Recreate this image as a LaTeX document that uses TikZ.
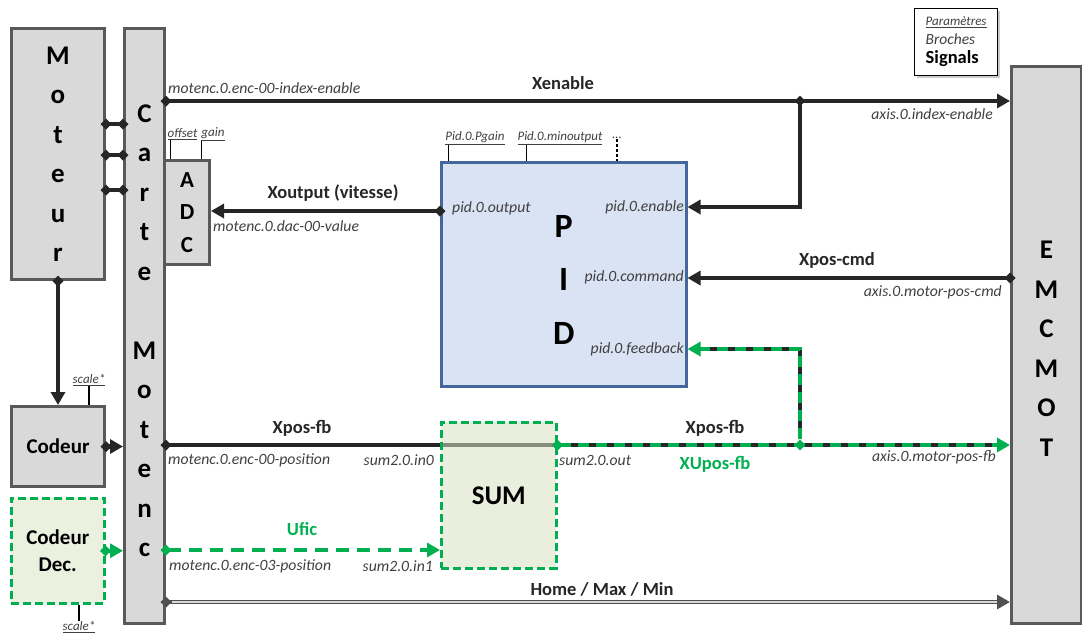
\documentclass[tikz,border=0pt]{standalone}
\usepackage{fontspec}
\setmainfont{Carlito}
\usetikzlibrary{arrows.meta,shapes.geometric,shadows,backgrounds}

\definecolor{boxgray}{RGB}{89,89,89}
\definecolor{fillgray}{RGB}{217,217,217}
\definecolor{lineblack}{RGB}{38,38,38}
\definecolor{siggreen}{RGB}{0,176,80}
\definecolor{fillgreen}{RGB}{235,241,222}
\definecolor{sumgreen}{RGB}{215,224,193}
\definecolor{pidblue}{RGB}{68,104,156}
\definecolor{fillblue}{RGB}{218,227,243}
\definecolor{pingray}{RGB}{64,64,64}
\definecolor{homegray}{RGB}{80,80,80}

\tikzset{
  block/.style={rectangle, inner sep=0pt, anchor=north west, align=center},
  graybox/.style={block, draw=boxgray, fill=fillgray, line width=3pt},
  greenbox/.style={block, draw=siggreen, fill=fillgreen, line width=2.5pt, dash pattern=on 8pt off 4pt},
  stack/.style={font=\fontsize{27}{39.5}\selectfont\bfseries, align=center},
  pinlbl/.style={inner sep=0pt, text=pingray, font=\fontsize{15.7}{18}\selectfont\itshape},
  parlbl/.style={inner sep=0pt, text=pingray, font=\fontsize{13}{15}\selectfont\itshape},
  siglbl/.style={inner sep=0pt, text=lineblack, font=\fontsize{18.5}{21}\selectfont\bfseries},
  wire/.style={line width=4.5pt, draw=lineblack},
  greenwire/.style={line width=4.5pt, draw=siggreen, dash pattern=on 11pt off 7pt},
  pinout/.style={arrows={Diamond[length=11pt,width=11pt]-Triangle[length=13pt,width=14pt]}, shorten <=-5.5pt},
  pinin/.style={arrows={-Triangle[length=13pt,width=14pt]}},
  pinboth/.style={arrows={Diamond[length=11pt,width=11pt]-Diamond[length=11pt,width=11pt]}, shorten <=-5.5pt, shorten >=-5.5pt},
  junc/.style={diamond, fill=lineblack, inner sep=0pt, minimum width=11pt, minimum height=11pt},
  tick/.style={line width=1.2pt, draw=black}
}

\begin{document}
\begin{tikzpicture}[x=1pt, y=-1pt]
    \useasboundingbox (0,0) rectangle (1082,633);

    % Signal levels
    \coordinate (yEn) at (0,101);
    \coordinate (yPidEn) at (0,207);
    \coordinate (yOut) at (0,211);
    \coordinate (yCmd) at (0,278);
    \coordinate (yFeed) at (0,349);
    \coordinate (yFb) at (0,445);
    \coordinate (yUfic) at (0,550);
    \coordinate (yHome) at (0,602);

    % Blocks
    \node[graybox, stack, minimum width=93pt, minimum height=251pt] (moteur) at (10,27) {M\\o\\t\\e\\u\\r};
    \node[graybox, minimum width=40pt, minimum height=595pt] (carte) at (123,27) {};
    \node[stack] (carteTxt) at ([yshift=-4.5pt]carte.center) {C\\a\\r\\t\\e\\[39.5pt]M\\o\\t\\e\\n\\c};
    \node[graybox, font=\fontsize{23}{32.5}\selectfont\bfseries, minimum width=45pt, minimum height=104pt] (adc) at (163,159) {A\\D\\C};
    \node[graybox, font=\fontsize{21}{27}\selectfont\bfseries, minimum width=93pt, minimum height=80pt] (codeur) at (10,405) {Codeur};
    \node[greenbox, font=\fontsize{21}{27}\selectfont\bfseries, minimum width=93pt, minimum height=105pt] (codeurdec) at (10,497) {Codeur\\Dec.};
    \node[graybox, minimum width=70pt, minimum height=557pt] (emcmot) at (1010,65) {};
    \node[stack] (emcmotTxt) at ([yshift=-3.5pt]emcmot.center) {E\\M\\C\\M\\O\\T};
    \node[block, draw=pidblue, fill=fillblue, line width=2.5pt, minimum width=245pt, minimum height=224pt] (pid) at (440,161) {};
    \node[font=\fontsize{34}{53.5}\selectfont\bfseries, align=center] (pidTxt) at ([yshift=-5.5pt]pid.center) {P\\I\\D};
    \node[greenbox, fill=sumgreen, fill opacity=0.55, text opacity=1, font=\fontsize{27}{30}\selectfont\bfseries, minimum width=115pt, minimum height=146pt] (sum) at (440,421) {SUM};

    % Legend
    \node[block, draw=black, line width=1.2pt, fill=white, align=left, text=pingray,
          drop shadow={shadow xshift=2pt, shadow yshift=-2pt, fill=black!40},
          minimum width=83pt, minimum height=67pt, font=\fontsize{15.5}{19}\selectfont] (legend) at (914,8)
          {{\fontsize{13}{14}\selectfont\itshape\underline{Paramètres}}\\{\itshape Broches}\\{\fontsize{18.5}{20}\selectfont\bfseries\color{black}Signals}};

    % Moteur - Carte
    \foreach \yy in {124,155,190} {
        \coordinate (lk) at (0,\yy);
        \draw[wire, pinboth] (moteur.east |- lk) -- (carte.west |- lk);
    }
    \draw[wire, pinout] (moteur.south) -- (codeur.north);
    \draw[wire, pinout] (codeur.east) -- (carte.west |- codeur.east);
    \draw[wire, draw=siggreen, pinout] (codeurdec.east) -- (carte.west |- codeurdec.east);

    % Xenable
    \draw[wire, pinout] (carte.east |- yEn) -- (emcmot.west |- yEn);
    \node[junc] (jEn) at (800,101) {};
    \draw[wire, pinin] (jEn.center) |- (pid.east |- yPidEn);

    % Xoutput, Xpos-cmd
    \draw[wire, pinout] (pid.west |- yOut) -- (adc.east |- yOut);
    \draw[wire, pinout] (emcmot.west |- yCmd) -- (pid.east |- yCmd);

    % Xpos-fb
    \draw[wire, arrows={Diamond[length=11pt,width=11pt]-}, shorten <=-5.5pt] (carte.east |- yFb) -- (sum.west |- yFb);
    \begin{scope}[on background layer]
        \draw[wire] (sum.west |- yFb) -- (sum.east |- yFb);
    \end{scope}

    % XUpos-fb
    \draw[wire, shorten >=8pt] (sum.east |- yFb) -- (emcmot.west |- yFb);
    \draw[greenwire, pinout] (sum.east |- yFb) -- (emcmot.west |- yFb);
    \node[junc, fill=siggreen] (jFb) at (800,445) {};
    \draw[wire, shorten >=8pt] (jFb.north) |- (pid.east |- yFeed);
    \draw[greenwire, pinin] (jFb.north) |- (pid.east |- yFeed);

    % Ufic
    \draw[greenwire, dash pattern=on 13pt off 8pt, pinout] (carte.east |- yUfic) -- (sum.west |- yUfic);

    % Home / Max / Min
    \draw[wire, draw=homegray, line width=4.6pt, pinout] (carte.east |- yHome) -- (emcmot.west |- yHome);
    \draw[white!85!black, line width=1.8pt, shorten <=6pt, shorten >=13pt] (carte.east |- yHome) -- (emcmot.west |- yHome);

    % Signal names
    \node[siglbl] (sEnable) at (563,83) {Xenable};
    \node[siglbl] (sOutput) at (333,193) {Xoutput (vitesse)};
    \node[siglbl] (sCmd) at (837,260) {Xpos-cmd};
    \node[siglbl] (sFb) at (302,428) {Xpos-fb};
    \node[siglbl] (sFbOut) at (715,428) {Xpos-fb};
    \node[siglbl, text=siggreen] (sUFb) at (715,464) {XUpos-fb};
    \node[siglbl, text=siggreen] (sUfic) at (302,529) {Ufic};
    \node[siglbl] (sHome) at (602,589) {Home / Max / Min};

    % Pins
    \node[pinlbl, anchor=west] (pEnIdx) at (168,88) {motenc.0.enc-00-index-enable};
    \node[pinlbl, anchor=east] (pAxIdx) at (993,114) {axis.0.index-enable};
    \node[pinlbl, anchor=west] (pDac) at (213,226) {motenc.0.dac-00-value};
    \node[pinlbl, anchor=west] (pPidOut) at (452,208) {pid.0.output};
    \node[pinlbl, anchor=east] (pPidEn) at (684,207) {pid.0.enable};
    \node[pinlbl, anchor=east] (pPidCmd) at (684,277) {pid.0.command};
    \node[pinlbl, anchor=east] (pAxCmd) at (1002,292) {axis.0.motor-pos-cmd};
    \node[pinlbl, anchor=east] (pPidFb) at (684,349) {pid.0.feedback};
    \node[pinlbl, anchor=west] (pEncPos) at (168,460) {motenc.0.enc-00-position};
    \node[pinlbl, anchor=east] (pIn0) at (434,460) {sum2.0.in0};
    \node[pinlbl, anchor=west] (pSumOut) at (559,460) {sum2.0.out};
    \node[pinlbl, anchor=east] (pAxFb) at (996,457) {axis.0.motor-pos-fb};
    \node[pinlbl, anchor=west] (pEnc03) at (169,566) {motenc.0.enc-03-position};
    \node[pinlbl, anchor=east] (pIn1) at (433,566) {sum2.0.in1};

    % Parameters
    \node[parlbl] (prOffset) at (182.5,134) {\underline{offset}};
    \node[parlbl] (prGain) at (213,134) {\underline{gain}};
    \node[parlbl] (prPgain) at (475,138) {\underline{Pid.0.Pgain}};
    \node[parlbl] (prMinout) at (560,138) {\underline{Pid.0.minoutput}};
    \node[parlbl] (prMore) at (617,138) {...};
    \node[parlbl] (prScale) at (89,380) {\underline{scale*}};
    \node[parlbl] (prScaleDec) at (79,627) {\underline{scale*}};

    \path (prOffset.south west) ++(3,0) coordinate (tOffset);
    \path (prGain.south west) ++(0,0) coordinate (tGain);
    \path (prPgain.south west) ++(3,0) coordinate (tPgain);
    \path (prMinout.south west) ++(9,0) coordinate (tMinout);
    \draw[tick] (tOffset) -- (tOffset |- adc.north);
    \draw[tick] (tGain) -- (tGain |- adc.north);
    \draw[tick] (tPgain) -- (tPgain |- pid.north);
    \draw[tick] (tMinout) -- (tMinout |- pid.north);
    \draw[tick, dash pattern=on 3pt off 2pt] (prMore.south) -- (prMore.south |- pid.north);
    \draw[tick] (prScale.south) -- (prScale.south |- codeur.north);
    \draw[tick] (prScaleDec.north) -- (prScaleDec.north |- codeurdec.south);
\end{tikzpicture}
\end{document}
